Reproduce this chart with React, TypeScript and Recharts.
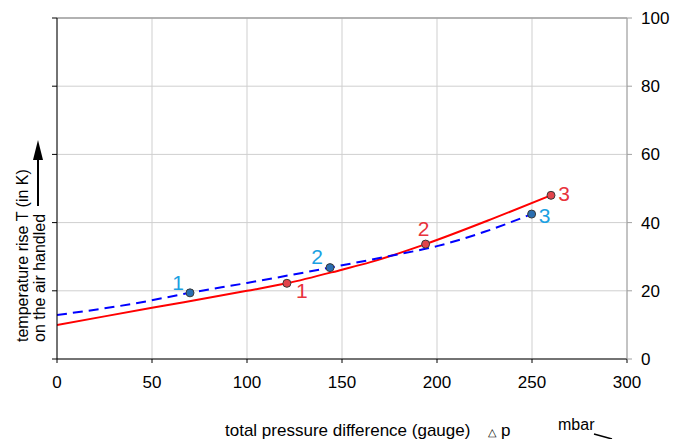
import {
  ComposedChart,
  Line,
  Scatter,
  XAxis,
  YAxis,
  CartesianGrid,
  ReferenceLine,
} from "recharts";

// total pressure difference Δp (mbar) vs temperature rise T (K)
const redCurve = [
  { p: 0, t: 10 },
  { p: 50, t: 15 },
  { p: 100, t: 20 },
  { p: 121, t: 22.2 },
  { p: 150, t: 26.2 },
  { p: 165, t: 28.4 },
  { p: 194, t: 33.7 },
  { p: 230, t: 41.3 },
  { p: 260, t: 48 },
];

const blueCurve = [
  { p: 0, t: 12.9 },
  { p: 40, t: 16.2 },
  { p: 70, t: 19.4 },
  { p: 100, t: 22.3 },
  { p: 143.7, t: 26.8 },
  { p: 175, t: 30.2 },
  { p: 200, t: 33.1 },
  { p: 225, t: 37.3 },
  { p: 249.8, t: 42.5 },
];

const redPoints = [
  { p: 121, t: 22.2, n: "1" },
  { p: 194, t: 33.7, n: "2" },
  { p: 260, t: 48, n: "3" },
];

const bluePoints = [
  { p: 70, t: 19.4, n: "1" },
  { p: 143.7, t: 26.8, n: "2" },
  { p: 249.8, t: 42.5, n: "3" },
];

const xTicks = [0, 50, 100, 150, 200, 250, 300];
const yTicks = [0, 20, 40, 60, 80, 100];

const FONT = "'Liberation Sans', Arial, sans-serif";

// label offsets relative to each point, in px
const redOffsets = [
  [15, 7],
  [-2, -16],
  [13, -2],
];
const blueOffsets = [
  [-12, -10],
  [-13, -11],
  [13, 1],
];

function makeShape(fill: string, labelColor: string, offsets: number[][]) {
  return (props: any) => {
    const { cx, cy, index, payload } = props;
    const [dx, dy] = offsets[index] ?? [10, 0];
    return (
      <g>
        <circle cx={cx} cy={cy} r={4} fill={fill} stroke="#3a3a3a" strokeWidth={1} />
        <text
          x={cx + dx}
          y={cy + dy}
          textAnchor="middle"
          dominantBaseline="central"
          fill={labelColor}
          fontSize={21}
          fontFamily={FONT}
        >
          {payload.n}
        </text>
      </g>
    );
  };
}

export default function App() {
  return (
    <div
      style={{
        position: "absolute",
        left: 0,
        top: 0,
        width: 674,
        height: 439,
        overflow: "hidden",
        background: "#fff",
        fontFamily: FONT,
      }}
    >
      <ComposedChart
        width={674}
        height={439}
        margin={{ top: 18, right: 0, left: 0, bottom: 50 }}
      >
        <CartesianGrid stroke="#cfcfcf" yAxisId="left" />
        <XAxis
          dataKey="p"
          type="number"
          domain={[0, 300]}
          ticks={xTicks}
          allowDataOverflow
          stroke="#000"
          tickSize={4}
          tickMargin={13}
          height={30}
          tick={{ fill: "#000", fontSize: 17, fontFamily: FONT }}
        />
        <YAxis
          yAxisId="left"
          dataKey="t"
          orientation="left"
          type="number"
          domain={[0, 100]}
          ticks={yTicks}
          width={57}
          stroke="#000"
          tickSize={5}
          tickFormatter={() => ""}
        />
        <YAxis
          yAxisId="right"
          dataKey="t"
          orientation="right"
          type="number"
          domain={[0, 100]}
          ticks={yTicks}
          width={47}
          stroke="#a0a0a0"
          tickSize={5}
          tickMargin={9}
          tick={{ fill: "#000", fontSize: 17, fontFamily: FONT }}
        />
        <ReferenceLine yAxisId="left" y={100} stroke="#a0a0a0" strokeWidth={1.5} />
        {/* invisible series so the right axis gets its ticks */}
        <Line
          yAxisId="right"
          data={redCurve}
          dataKey="t"
          stroke="none"
          dot={false}
          activeDot={false}
          isAnimationActive={false}
        />
        <Line
          yAxisId="left"
          data={redCurve}
          dataKey="t"
          type="monotone"
          stroke="#ff0000"
          strokeWidth={2}
          dot={false}
          activeDot={false}
          isAnimationActive={false}
        />
        <Line
          yAxisId="left"
          data={blueCurve}
          dataKey="t"
          type="monotone"
          stroke="#0000ff"
          strokeWidth={2}
          strokeDasharray="10 6"
          dot={false}
          activeDot={false}
          isAnimationActive={false}
        />
        <Scatter
          yAxisId="left"
          data={redPoints}
          dataKey="t"
          shape={makeShape("#e2444b", "#e8333c", redOffsets)}
          isAnimationActive={false}
        />
        <Scatter
          yAxisId="left"
          data={bluePoints}
          dataKey="t"
          shape={makeShape("#2a6db0", "#1ba1e2", blueOffsets)}
          isAnimationActive={false}
        />
      </ComposedChart>

      <svg
        width={674}
        height={439}
        style={{ position: "absolute", left: 0, top: 0, pointerEvents: "none" }}
      >
        <text
          transform="translate(28,342) rotate(-90)"
          fontSize={16}
          fontFamily={FONT}
          fill="#000"
        >
          temperature rise T (in K)
        </text>
        <text
          transform="translate(45,342) rotate(-90)"
          fontSize={16}
          fontFamily={FONT}
          fill="#000"
        >
          on the air handled
        </text>
        <line x1={38} y1={206} x2={38} y2={155} stroke="#000" strokeWidth={2} />
        <polygon points="38,140 33,160 43,160" fill="#000" />

        <text x={225} y={436} fontSize={17} fontFamily={FONT} fill="#000">
          total pressure difference (gauge)
        </text>
        <text x={488} y={436} fontSize={11} fontFamily={FONT} fill="#000">
          △
        </text>
        <text x={501} y={436} fontSize={17} fontFamily={FONT} fill="#000">
          p
        </text>
        <text x={558} y={430} fontSize={16} fontFamily={FONT} fill="#000">
          mbar
        </text>
        <line x1={594} y1={434} x2={612} y2={439} stroke="#000" strokeWidth={1.5} />
      </svg>
    </div>
  );
}
